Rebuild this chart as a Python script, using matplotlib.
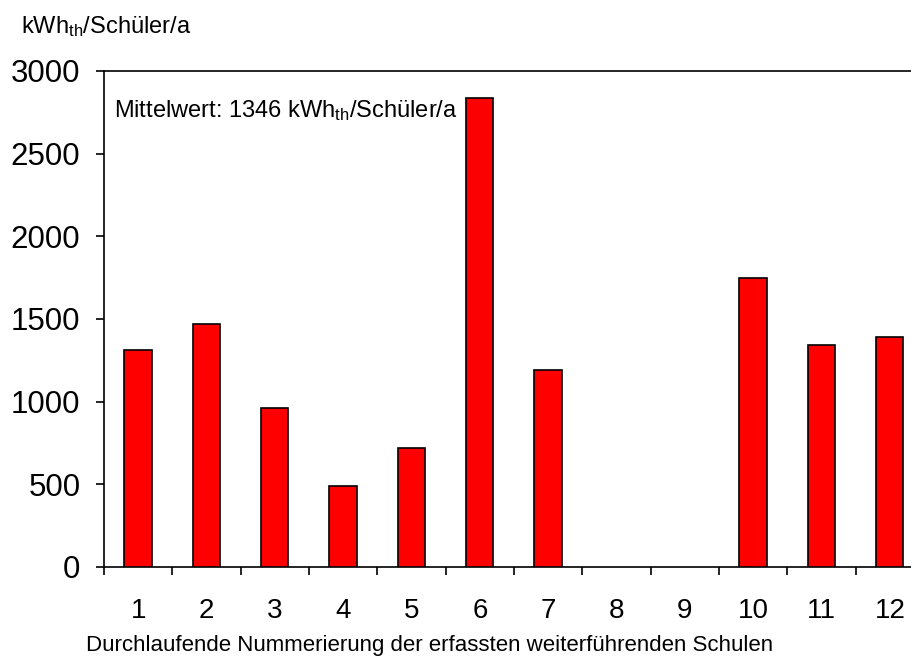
import numpy as np
import matplotlib
matplotlib.use('Agg')
import matplotlib.pyplot as plt

plt.rcParams['font.family'] = ['Liberation Sans', 'DejaVu Sans']
plt.rcParams['mathtext.fontset'] = 'custom'
plt.rcParams['mathtext.rm'] = 'Liberation Sans'
plt.rcParams['mathtext.it'] = 'Liberation Sans:italic'

# data
schulen = ['1', '2', '3', '4', '5', '6', '7', '8', '9', '10', '11', '12']
werte = [1315, 1470, 960, 490, 720, 2835, 1190, 0, 0, 1750, 1340, 1390]
mittelwert = 1346
y_ticks = [0, 500, 1000, 1500, 2000, 2500, 3000]

fig = plt.figure(figsize=(9.12, 6.59), dpi=100)
# axes runs a little past the right edge, like the cropped original
ax = fig.add_axes([104/912, 92/659, 820/912, 496/659])

x = np.arange(len(schulen))
hoehe = np.array(werte, dtype=float)
mask = hoehe > 0
ax.bar(x[mask], hoehe[mask], width=0.4, color='#ff0000',
       edgecolor='black', linewidth=1.2, zorder=3)

ax.set_xlim(-0.5, len(schulen) - 0.5)
ax.set_ylim(0, 3000)
ax.set_yticks(y_ticks)
ax.set_yticklabels([str(v) for v in y_ticks], fontsize=22.5)

# labels at the centres, tick marks at the category boundaries
ax.set_xticks(x)
ax.set_xticklabels(schulen, fontsize=20)
ax.set_xticks(np.arange(-0.5, len(schulen) + 0.5, 1.0), minor=True)
ax.tick_params(axis='x', which='major', length=0, pad=22)
ax.tick_params(axis='x', which='minor', length=6, width=1.2, direction='out')
ax.tick_params(axis='y', which='major', length=6, width=1.2, direction='out', pad=11)

for s in ax.spines.values():
    s.set_linewidth(1.2)

fig.text(114/912, 1 - 111/659, 'Mittelwert: %d kWh$_\\mathrm{th}$/Schüler/a' % mittelwert,
         fontsize=17, va='center', ha='left')

fig.text(21/912, 1 - 27/659, 'kWh$_\\mathrm{th}$/Schüler/a', fontsize=17,
         va='center', ha='left')
fig.text(430/912, 1 - 646/659,
         'Durchlaufende Nummerierung der erfassten weiterführenden Schulen',
         fontsize=16, va='center', ha='center')

fig.savefig('out.png', dpi=100)
